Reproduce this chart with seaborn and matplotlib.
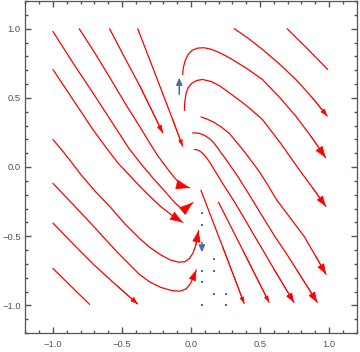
"""Stream lines of a planar field, redrawn from a picture."""

import matplotlib

matplotlib.use("Agg")
import matplotlib.pyplot as plt
import pandas as pd
import seaborn as sns
from matplotlib.ticker import MultipleLocator

RED = "#ff0000"
BLUE = "#4f6d9b"
FRAME = "#555555"

# streamlines, (x, y) in data units, tail first
stream_a = [(-1.00, 0.98), (-0.85, 0.745), (-0.70, 0.52), (-0.57, 0.32), (-0.45, 0.135),
            (-0.36, 0.02), (-0.28, -0.075), (-0.19, -0.175), (-0.12, -0.255), (-0.075, -0.295),
            (-0.045, -0.305), (0.012, -0.258)]
stream_b = [(-0.81, 1.00), (-0.70, 0.83), (-0.59, 0.65), (-0.48, 0.465), (-0.37, 0.29),
            (-0.30, 0.175), (-0.24, 0.08), (-0.18, 0.0), (-0.13, -0.065), (-0.085, -0.115),
            (-0.05, -0.14), (-0.01, -0.15)]
stream_c = [(-0.59, 1.00), (-0.48, 0.79), (-0.37, 0.585), (-0.205, 0.248)]
stream_d = [(-0.386, 1.00), (-0.258, 0.669), (-0.133, 0.344), (-0.061, 0.151)]
stream_e = [(-1.00, 0.705), (-0.90, 0.555), (-0.81, 0.42), (-0.71, 0.27), (-0.605, 0.127),
            (-0.53, 0.03), (-0.45, -0.055), (-0.37, -0.14), (-0.30, -0.21), (-0.22, -0.285),
            (-0.15, -0.34), (-0.10, -0.375), (-0.06, -0.40)]
stream_f = [(-1.00, 0.199), (-0.939, 0.127), (-0.87, 0.04), (-0.793, -0.061), (-0.69, -0.18),
            (-0.583, -0.291), (-0.48, -0.41), (-0.374, -0.515), (-0.30, -0.58), (-0.22, -0.635),
            (-0.15, -0.672), (-0.09, -0.688), (-0.045, -0.685), (-0.01, -0.66), (0.015, -0.62),
            (0.035, -0.565), (0.055, -0.46)]
stream_g = [(-1.00, -0.118), (-0.85, -0.275), (-0.70, -0.435), (-0.54, -0.61), (-0.374, -0.776),
            (-0.30, -0.83), (-0.22, -0.87), (-0.14, -0.893), (-0.08, -0.898), (-0.035, -0.88),
            (-0.005, -0.845), (0.02, -0.79), (0.038, -0.745)]
stream_h = [(-1.00, -0.405), (-0.85, -0.56), (-0.70, -0.71), (-0.54, -0.855), (-0.386, -0.99)]
stream_i = [(-1.00, -0.733), (-0.735, -0.993)]
stream_r1 = [(0.696, 1.00), (0.848, 0.85), (0.99, 0.705)]
stream_r2 = [(0.313, 1.00), (0.415, 0.93), (0.517, 0.850), (0.64, 0.745), (0.759, 0.633),
             (0.875, 0.505), (0.987, 0.368)]
stream_u1 = [(-0.061, 0.669), (-0.055, 0.72), (-0.042, 0.77), (-0.02, 0.815), (0.01, 0.845),
             (0.05, 0.86), (0.096, 0.862), (0.15, 0.85), (0.21, 0.825), (0.277, 0.79),
             (0.40, 0.715), (0.517, 0.633), (0.64, 0.505), (0.759, 0.368), (0.87, 0.22),
             (0.975, 0.067)]
stream_u2 = [(-0.048, 0.409), (-0.045, 0.47), (-0.036, 0.53), (-0.02, 0.575), (0.005, 0.605),
             (0.04, 0.625), (0.082, 0.633), (0.147, 0.618), (0.21, 0.585), (0.277, 0.537),
             (0.40, 0.445), (0.517, 0.344), (0.65, 0.17), (0.782, -0.017), (0.88, -0.15),
             (0.977, -0.285)]
stream_s0 = [(0.072, 0.362), (0.12, 0.345), (0.168, 0.322), (0.225, 0.285), (0.277, 0.243),
             (0.33, 0.18), (0.385, 0.113), (0.44, 0.04), (0.494, -0.032), (0.556, -0.13),
             (0.618, -0.234), (0.72, -0.37), (0.819, -0.501), (0.9, -0.64), (0.978, -0.776)]
stream_s1 = [(0.012, 0.246), (0.035, 0.246), (0.060, 0.243), (0.095, 0.23), (0.132, 0.207),
             (0.163, 0.178), (0.190, 0.142), (0.22, 0.10), (0.253, 0.055), (0.34, -0.07),
             (0.421, -0.199), (0.51, -0.345), (0.602, -0.494), (0.687, -0.62), (0.768, -0.747),
             (0.915, -0.98)]
stream_s2 = [(0.024, 0.127), (0.045, 0.124), (0.067, 0.113), (0.09, 0.094), (0.111, 0.069),
             (0.134, 0.036), (0.154, 0.004), (0.23, -0.12), (0.313, -0.249), (0.385, -0.37),
             (0.457, -0.494), (0.53, -0.617), (0.602, -0.740), (0.746, -0.98)]
stream_s3 = [(0.072, -0.169), (0.228, -0.574), (0.385, -0.986)]
stream_s4 = [(0.199, -0.254), (0.382, -0.615), (0.565, -0.978)]

streams = {
    "a": stream_a, "b": stream_b, "c": stream_c, "d": stream_d, "e": stream_e,
    "f": stream_f, "g": stream_g, "h": stream_h, "i": stream_i, "r1": stream_r1,
    "r2": stream_r2, "u1": stream_u1, "u2": stream_u2, "s0": stream_s0,
    "s1": stream_s1, "s2": stream_s2, "s3": stream_s3, "s4": stream_s4,
}

# small field vectors near the bottom of x = 0
dot_x = [0.083, 0.083, 0.167, 0.083, 0.167, 0.083, 0.167, 0.25, 0.083, 0.25]
dot_y = [-0.333, -0.417, -0.667, -0.75, -0.75, -0.833, -0.917, -0.917, -1.0, -1.0]
small_arrows = [((-0.085, 0.525), (-0.085, 0.645)), ((0.079, -0.545), (0.079, -0.617))]

# arrowhead length in pixels for each stream (no head on "i" and "r1")
head_px = {"a": 12, "b": 12, "c": 6, "d": 5, "e": 11, "f": 10, "g": 9, "h": 6,
           "r2": 6, "u1": 10, "u2": 9, "s0": 9, "s1": 9, "s2": 8, "s3": 5, "s4": 5}


def _arrowhead(ax, tail, tip, size_px, color):
    length = size_px * 0.72 / 10
    width = length * 0.36
    ax.annotate(
        "",
        xy=tip,
        xytext=tail,
        arrowprops=dict(
            arrowstyle=f"-|>,head_length={length:.2f},head_width={width:.2f}",
            color=color,
            lw=0.6,
            shrinkA=0,
            shrinkB=0,
            mutation_scale=10,
        ),
    )


sns.set_style("ticks")
plt.rcParams["font.family"] = ["Liberation Sans", "DejaVu Sans"]

fig = plt.figure(figsize=(3.6, 3.52), dpi=100)
ax = fig.add_axes([25.3 / 360, 19 / 352, 331.4 / 360, 332 / 352])

rows = []
for name, pts in streams.items():
    for k, (x, y) in enumerate(pts):
        rows.append({"line": name, "order": k, "x": x, "y": y})
df = pd.DataFrame(rows)

sns.lineplot(data=df, x="x", y="y", units="line", estimator=None, sort=False,
             color=RED, lw=0.9, ax=ax)

for name, size in head_px.items():
    pts = streams[name]
    _arrowhead(ax, pts[-2], pts[-1], size, RED)

sns.scatterplot(x=dot_x, y=dot_y, marker="s", s=2.5, color=BLUE, linewidth=0, ax=ax)
for tail, tip in small_arrows:
    ax.annotate("", xy=tip, xytext=tail,
                arrowprops=dict(arrowstyle="-|>,head_length=0.4,head_width=0.18",
                                color=BLUE, lw=1.1, shrinkA=0, shrinkB=0,
                                mutation_scale=10))

ax.set_xlim(-1.2, 1.2)
ax.set_ylim(-1.2, 1.2)
ax.set_xlabel("")
ax.set_ylabel("")
ax.xaxis.set_major_locator(MultipleLocator(0.5))
ax.yaxis.set_major_locator(MultipleLocator(0.5))
ax.xaxis.set_minor_locator(MultipleLocator(0.1))
ax.yaxis.set_minor_locator(MultipleLocator(0.1))
ax.tick_params(which="both", direction="in", bottom=True, left=True, top=True, right=True,
               color=FRAME, width=1.0)
ax.tick_params(which="major", length=4.0, labelcolor="#555555", labelsize=6.8)
ax.tick_params(which="minor", length=2.2)
ax.tick_params(axis="x", which="major", pad=5)
ax.tick_params(axis="y", which="major", pad=3.3)
for spine in ax.spines.values():
    spine.set_visible(True)
    spine.set_color(FRAME)
    spine.set_linewidth(0.9)

fig.savefig("out.png", dpi=100)
plt.close(fig)
